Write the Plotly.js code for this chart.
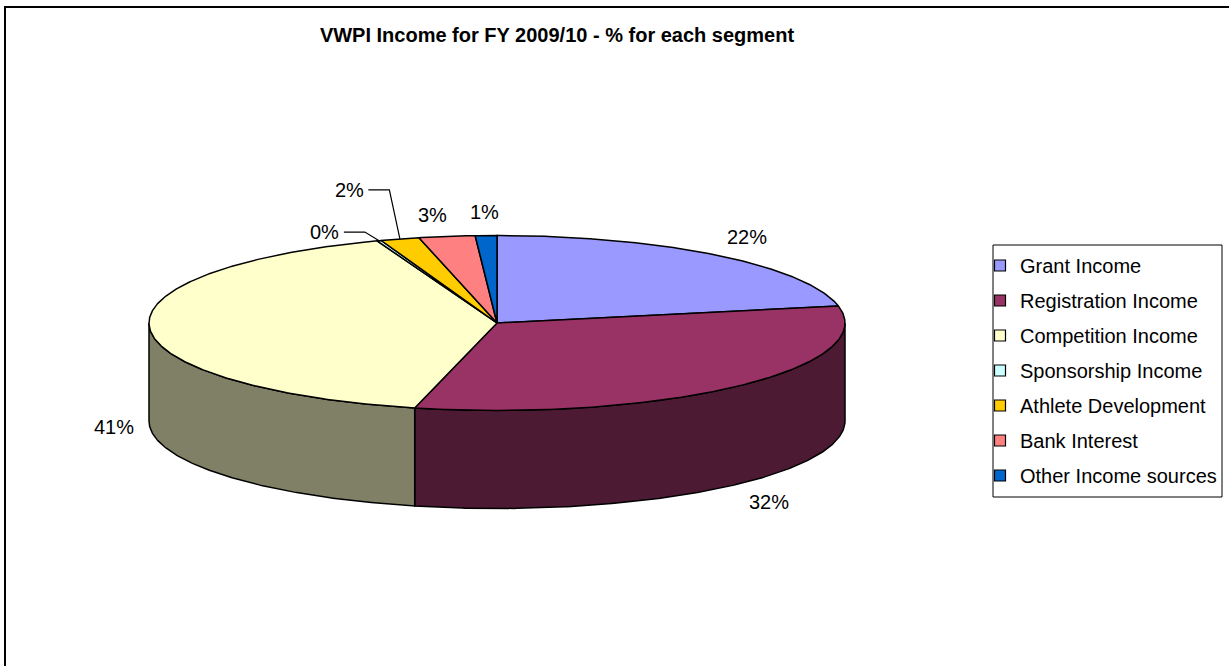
<!DOCTYPE html>
<html>
<head>
<meta charset="utf-8">
<script src="https://cdn.plot.ly/plotly-3.0.1.min.js"></script>
<style>html,body{margin:0;padding:0;background:#fff;}#chart{width:1229px;height:666px;}</style>
</head>
<body>
<div id="chart"></div>
<script>
// ---- data ----
const categories = ['Grant Income', 'Registration Income', 'Competition Income', 'Sponsorship Income', 'Athlete Development', 'Bank Interest', 'Other Income sources'];
const values = [21.9, 31.9, 40.6, 0.2, 1.8, 2.6, 1.0];
const colors = ['#9999FF', '#993366', '#FFFFCC', '#CCFFFF', '#FFCC00', '#FF8080', '#0066CC'];
const chartTitle = 'VWPI Income for FY 2009/10 - % for each segment';

// ---- geometry (pixel-unit axes) ----
const W = 1229, H = 666;
const CX = 497, CY = 323, RX = 348, RY = 87.5, DEPTH = 98;
const FONT = 'Arial, "Liberation Sans", sans-serif';

function pt(deg, dy) {
  const r = deg * Math.PI / 180;
  return [CX + RX * Math.sin(r), CY - RY * Math.cos(r) + (dy || 0)];
}
function darker(hex, f) {
  const n = parseInt(hex.slice(1), 16);
  const r = Math.round(((n >> 16) & 255) * f), g = Math.round(((n >> 8) & 255) * f), b = Math.round((n & 255) * f);
  return 'rgb(' + r + ',' + g + ',' + b + ')';
}
function arc(a0, a1, dy) {
  const pts = [];
  const steps = Math.max(2, Math.ceil(Math.abs(a1 - a0) / 0.5));
  for (let i = 0; i <= steps; i++) pts.push(pt(a0 + (a1 - a0) * i / steps, dy));
  return pts;
}

const total = values.reduce((a, b) => a + b, 0);
const starts = [], ends = [];
let cum = 0;
values.forEach(v => { starts.push(cum / total * 360); cum += v; ends.push(cum / total * 360); });

const traces = [];
const outline = {color: '#000', width: 1.5};

// side walls (front half only)
values.forEach((v, i) => {
  const w0 = Math.max(starts[i], 90), w1 = Math.min(ends[i], 270);
  if (w1 <= w0) return;
  const top = arc(w0, w1, 0);
  const bot = arc(w1, w0, DEPTH);
  const poly = top.concat(bot);
  poly.push(top[0]);
  traces.push({type: 'scatter', mode: 'lines', x: poly.map(p => p[0]), y: poly.map(p => p[1]),
    fill: 'toself', fillcolor: darker(colors[i], 0.5), line: outline, showlegend: false, hoverinfo: 'skip'});
});

// top faces
values.forEach((v, i) => {
  const poly = [[CX, CY]].concat(arc(starts[i], ends[i], 0));
  poly.push([CX, CY]);
  traces.push({type: 'scatter', mode: 'lines', x: poly.map(p => p[0]), y: poly.map(p => p[1]),
    fill: 'toself', fillcolor: colors[i], line: outline, showlegend: false,
    name: categories[i], hoverinfo: 'name'});
});

// labels
const LPX = 45, LPY = 24;
const nudge = {2: [9, 0], 3: [-39, 14], 4: [-38, -26], 5: [-8, 2]};
const leader = {3: true, 4: true};
const annotations = [];
values.forEach((v, i) => {
  const m = (starts[i] + ends[i]) / 2;
  const r = m * Math.PI / 180;
  const s = Math.sin(r), c = Math.cos(r);
  let x = CX + (RX + LPX) * s;
  let y = CY - (RY + LPY) * c + (c < 0 ? DEPTH : 0);
  if (nudge[i]) { x += nudge[i][0]; y += nudge[i][1]; }
  const txt = Math.round(v / total * 100) + '%';
  annotations.push({x: x, y: y, xref: 'x', yref: 'y', text: txt, showarrow: false,
    font: {family: FONT, size: 20, color: '#000'}, xanchor: 'center', yanchor: 'middle'});
  if (leader[i]) {
    const e = pt(m, 0);
    const tx = x + 19;
    const ex = tx + 21;
    traces.push({type: 'scatter', mode: 'lines', x: [tx, ex, e[0]], y: [y, y, e[1]],
      line: {color: '#000', width: 1.2}, showlegend: false, hoverinfo: 'skip'});
  }
});

// legend entries
categories.forEach((name, i) => {
  traces.push({type: 'scatter', mode: 'markers', x: [null], y: [null], name: name,
    legendgroup: 'g' + i, showlegend: true,
    marker: {symbol: 'square', size: 11, color: colors[i], line: {color: '#000', width: 1.2}}});
});

const layout = {
  width: W, height: H,
  margin: {l: 0, r: 0, t: 0, b: 0},
  paper_bgcolor: '#fff', plot_bgcolor: '#fff',
  xaxis: {range: [0, W], visible: false, fixedrange: true},
  yaxis: {range: [H, 0], visible: false, fixedrange: true},
  title: {text: '<b>' + chartTitle + '</b>', x: 557 / W, xanchor: 'center', y: 1 - 35 / H, yanchor: 'middle',
    font: {family: FONT, size: 20, color: '#000'}},
  showlegend: true,
  legend: {x: 980 / W, xanchor: 'left', y: 1 - 246 / H, yanchor: 'top', bgcolor: 'rgba(0,0,0,0)',
    borderwidth: 0, tracegroupgap: 6, font: {family: FONT, size: 20, color: '#000'}, itemclick: false},
  annotations: annotations,
  shapes: [
    {type: 'rect', xref: 'paper', yref: 'paper', x0: 5 / W, x1: 1.05, y0: -0.05, y1: 1 - 7 / H,
      line: {color: '#000', width: 2}, fillcolor: 'rgba(0,0,0,0)'},
    {type: 'rect', xref: 'x', yref: 'y', x0: 993, x1: 1222, y0: 245, y1: 497,
      line: {color: '#000', width: 1}, fillcolor: 'rgba(0,0,0,0)'}
  ]
};

Plotly.newPlot('chart', traces, layout, {displayModeBar: false, staticPlot: false});
</script>
</body>
</html>
